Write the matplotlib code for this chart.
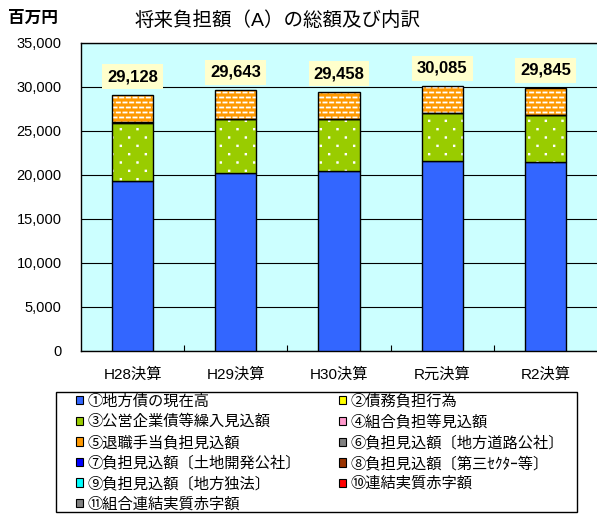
import numpy as np
import matplotlib
matplotlib.use("Agg")
import matplotlib.pyplot as plt
import matplotlib.hatch as mhatch
from matplotlib.patches import Rectangle
from matplotlib.path import Path

plt.rcParams['font.family'] = ['Liberation Sans', 'Noto Sans CJK JP', 'DejaVu Sans']
plt.rcParams['hatch.linewidth'] = 1.3

# ---------------- data ----------------
categories = ['H28決算', 'H29決算', 'H30決算', 'R元決算', 'R2決算']
totals = [29128, 29643, 29458, 30085, 29845]
s1_chihousai = [19350, 20190, 20490, 21630, 21510]      # ①
s3_koei = [6520, 6210, 5910, 5370, 5270]                # ③
s4_kumiai = [150, 0, 0, 0, 0]                           # ④
s5_taishoku = [3108, 3243, 3058, 3085, 3065]            # ⑤
yticks = [0, 5000, 10000, 15000, 20000, 25000, 30000, 35000]

legend_labels = ['①地方債の現在高', '②債務負担行為', '③公営企業債等繰入見込額',
                 '④組合負担等見込額', '⑤退職手当負担見込額', '⑥負担見込額〔地方道路公社〕',
                 '⑦負担見込額〔土地開発公社〕', '⑧負担見込額〔第三ｾｸﾀｰ等〕',
                 '⑨負担見込額〔地方独法〕', '⑩連結実質赤字額', '⑪組合連結実質赤字額']
legend_colors = ['#3366FF', '#FFFF00', '#99CC00', '#FF99CC', '#FF9900', '#808080',
                 '#0000FF', '#993300', '#00FFFF', '#FF0000', '#808080']


# ---------------- custom hatches ----------------
class BrickDashes(mhatch.HatchPatternBase):
    def __init__(self, hatch, density):
        self.rows, self.cols = 20, 15
        self.num_vertices = self.rows * self.cols * 2 if '*' in hatch else 0

    def set_vertices_and_codes(self, vertices, codes):
        half = 0.016
        k = 0
        for r in range(self.rows):
            y = (r + 0.5) / self.rows
            off = 0.75 if r % 2 else 0.25
            for c in range(self.cols):
                xc = (c + off) / self.cols
                vertices[k] = (xc - half, y)
                vertices[k + 1] = (xc + half, y)
                codes[k] = Path.MOVETO
                codes[k + 1] = Path.LINETO
                k += 2


class SparseDots(mhatch.HatchPatternBase):
    def __init__(self, hatch, density):
        self.rows, self.cols = 12, 6
        self.num_vertices = self.rows * self.cols * 5 if 'O' in hatch else 0

    def set_vertices_and_codes(self, vertices, codes):
        s = 0.003
        k = 0
        for r in range(self.rows):
            y = (r + 0.5) / self.rows
            off = 0.75 if r % 2 else 0.25
            for c in range(self.cols):
                xc = (c + off) / self.cols
                vertices[k:k + 5] = [(xc - s, y - s), (xc + s, y - s), (xc + s, y + s),
                                     (xc - s, y + s), (xc - s, y - s)]
                codes[k:k + 5] = [Path.MOVETO, Path.LINETO, Path.LINETO, Path.LINETO,
                                  Path.CLOSEPOLY]
                k += 5


mhatch._hatch_types[:] = [t for t in mhatch._hatch_types
                          if t not in (mhatch.Stars, mhatch.LargeCircles)] + [BrickDashes, SparseDots]

# ---------------- figure ----------------
fig = plt.figure(figsize=(5.97, 5.17), dpi=100)
ax = fig.add_axes([81 / 597, 1 - 351 / 517, 1 - 81 / 597, (351 - 43) / 517])
ax.set_facecolor('#CCFFFF')

x = np.arange(len(categories))
w = 0.4
series = [(s1_chihousai, '#3366FF', None),
          (s3_koei, '#99CC00', 'O'),
          (s4_kumiai, '#FF99CC', None),
          (s5_taishoku, '#FF9900', '*')]
bottom = np.zeros(len(categories))
for vals, col, hat in series:
    vals = np.array(vals, dtype=float)
    if hat:
        ax.bar(x, vals, w, bottom=bottom, color=col, hatch=hat, edgecolor='white',
               linewidth=0, zorder=3)
        ax.bar(x, vals, w, bottom=bottom, fill=False, edgecolor='black',
               linewidth=1.0, zorder=4)
    else:
        ax.bar(x, vals, w, bottom=bottom, color=col, edgecolor='black',
               linewidth=1.0, zorder=3)
    bottom += vals

for xi, t in zip(x, totals):
    ax.annotate(f'{t:,}', (xi, t), xytext=(0, 13), textcoords='offset points',
                ha='center', va='center', fontsize=12, fontweight='bold',
                bbox=dict(boxstyle='square,pad=0.3', fc='#FFFFCC', ec='none'),
                zorder=5)

ax.set_xlim(-0.5, len(categories) - 0.5)
ax.set_ylim(0, 35000)
ax.set_yticks(yticks)
ax.set_yticklabels([f'{v:,}' for v in yticks], fontsize=10.5)
ax.tick_params(axis='y', length=0, pad=14)
ax.set_xticks(x)
ax.set_xticklabels(categories, fontsize=11)
ax.tick_params(axis='x', which='major', length=0, pad=12)
ax.set_xticks(x[:-1] + 0.5, minor=True)
ax.tick_params(axis='x', which='minor', direction='in', length=4, width=0.8)
ax.grid(axis='y', color='black', linewidth=0.8, zorder=1)
ax.set_axisbelow(True)
for sp in ['top', 'left', 'bottom']:
    ax.spines[sp].set_linewidth(1.0)
    ax.spines[sp].set_color('black')
ax.spines['right'].set_visible(False)

fig.text(278 / 597, 1 - 21 / 517, '将来負担額（A）の総額及び内訳', ha='center', va='center',
         fontsize=14)
fig.text(8 / 597, 1 - 18 / 517, '百万円', ha='left', va='center', fontsize=12,
         fontweight='bold')

# legend: column-major order for ncol=2
order = [0, 2, 4, 6, 8, 10, 1, 3, 5, 7, 9]
handles = [Rectangle((0, 0), 1, 1, facecolor=legend_colors[i], edgecolor='black',
                     linewidth=0.8) for i in order]
labels = [legend_labels[i] for i in order]
leg = fig.legend(handles, labels, ncol=2, loc='upper left',
                 bbox_to_anchor=(73 / 597, 1 - 391 / 517), frameon=False,
                 fontsize=11, handlelength=0.45, handleheight=0.45,
                 handletextpad=0.3, columnspacing=2.5, labelspacing=0.38,
                 borderpad=0.2, borderaxespad=0)
fig.patches.append(Rectangle((56 / 597, 1 - 512 / 517), (577 - 56) / 597, (512 - 392) / 517,
                             transform=fig.transFigure, fill=False, edgecolor='black',
                             linewidth=1.0))

fig.savefig('out.png', dpi=100)
